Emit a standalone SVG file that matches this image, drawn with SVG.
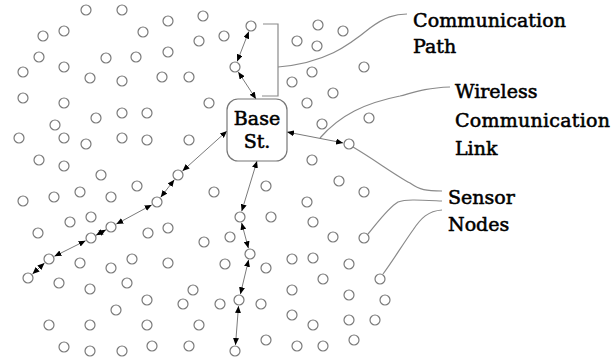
<svg xmlns="http://www.w3.org/2000/svg" width="613" height="357" viewBox="0 0 613 357">
<style>
.s{fill:#fff;stroke:#7a7a7a;stroke-width:1.2}
.c{fill:none;stroke:#7a7a7a;stroke-width:1;marker-start:url(#ah);marker-end:url(#ah)}
.ld{fill:none;stroke:#8a8a8a;stroke-width:1.2}
.t{font-family:"DejaVu Serif","Liberation Serif",serif;font-size:19px;fill:#000;stroke:#000;stroke-width:0.55}
.b{font-family:"DejaVu Serif","Liberation Serif",serif;font-size:19px;fill:#000;stroke:#000;stroke-width:0.55;text-anchor:middle}
</style>
<defs>
<marker id="ah" markerUnits="userSpaceOnUse" markerWidth="8" markerHeight="6" refX="7" refY="3" orient="auto-start-reverse">
<path d="M0,0 L7,3 L0,6 z" fill="#000"/>
</marker>
</defs>
<rect width="613" height="357" fill="#fff"/>

<g id="connectors">
<line class="c" x1="248.8" y1="31.6" x2="237.2" y2="61.4"/>
<line class="c" x1="238.3" y1="72" x2="256" y2="99"/>
<line class="c" x1="227" y1="131" x2="182.5" y2="171"/>
<line class="c" x1="174.3" y1="179.7" x2="160.7" y2="197.3"/>
<line class="c" x1="151.7" y1="204.9" x2="116.3" y2="224.1"/>
<line class="c" x1="106" y1="229.7" x2="96" y2="235.3"/>
<line class="c" x1="85.6" y1="240.7" x2="54.4" y2="256.3"/>
<line class="c" x1="44.5" y1="263" x2="32.5" y2="274"/>
<line class="c" x1="257" y1="161" x2="241.7" y2="211.3"/>
<line class="c" x1="241.6" y1="222.8" x2="248.4" y2="248.2"/>
<line class="c" x1="248.6" y1="259.8" x2="240.4" y2="294.2"/>
<line class="c" x1="238.5" y1="306" x2="235.5" y2="345"/>
<line class="c" x1="287" y1="132" x2="343.1" y2="142.9"/>
</g>

<g id="leaders">
<path class="ld" d="M263,24 H278 V96 H262"/>
<path class="ld" d="M278,67 C325,63 348,46 370,28 C385,17 395,14 407,14"/>
<path class="ld" d="M320,138 C340,115 365,103 400,96 C415,92 425,88 450,87"/>
<path class="ld" d="M353,147 C375,160 395,175 410,183 C420,190 426,191 442,191"/>
<path class="ld" d="M368,234 C378,222 388,208 398,202 C406,199 420,200 442,201"/>
<path class="ld" d="M383,274 C392,262 403,244 413,230 C421,218 428,211 442,210"/>
</g>

<g id="base-station">
<rect x="227" y="99" width="60" height="62" rx="11" ry="11" fill="#fff" stroke="#777" stroke-width="1.2"/>
<text class="b" x="257" y="125">Base</text>
<text class="b" x="257" y="148">St.</text>
</g>

<g id="label-path"><text class="t" x="413" y="27" textLength="153" lengthAdjust="spacing">Communication</text><text class="t" x="413" y="53">Path</text></g>
<g id="label-link"><text class="t" x="455" y="98">Wireless</text><text class="t" x="455" y="127" textLength="155" lengthAdjust="spacing">Communication</text><text class="t" x="455" y="155">Link</text></g>
<g id="label-sensor"><text class="t" x="448" y="204">Sensor</text><text class="t" x="448" y="231">Nodes</text></g>

<g id="path-nodes">
<g id="p1"><circle class="s" cx="251" cy="26" r="5"/></g>
<g id="p2"><circle class="s" cx="235" cy="67" r="5"/></g>
<g id="p3"><circle class="s" cx="178" cy="175" r="5"/></g>
<g id="p4"><circle class="s" cx="157" cy="202" r="5"/></g>
<g id="p5"><circle class="s" cx="111" cy="227" r="5"/></g>
<g id="p6"><circle class="s" cx="91" cy="238" r="5"/></g>
<g id="p7"><circle class="s" cx="49" cy="259" r="5"/></g>
<g id="p8"><circle class="s" cx="28" cy="278" r="5"/></g>
<g id="p9"><circle class="s" cx="240" cy="217" r="5"/></g>
<g id="p10"><circle class="s" cx="250" cy="254" r="5"/></g>
<g id="p11"><circle class="s" cx="239" cy="300" r="5"/></g>
<g id="p12"><circle class="s" cx="235" cy="351" r="5"/></g>
<g id="p13"><circle class="s" cx="349" cy="144" r="5"/></g>
<g id="p14"><circle class="s" cx="364" cy="238" r="5"/></g>
<g id="p15"><circle class="s" cx="380" cy="279" r="5"/></g>
</g>

<g id="sensor-nodes">
<g id="n1"><circle class="s" cx="86" cy="10" r="5"/></g>
<g id="n2"><circle class="s" cx="122" cy="10" r="5"/></g>
<g id="n3"><circle class="s" cx="168" cy="21" r="5"/></g>
<g id="n4"><circle class="s" cx="203" cy="16" r="5"/></g>
<g id="n5"><circle class="s" cx="43" cy="36" r="5"/></g>
<g id="n6"><circle class="s" cx="64" cy="31" r="5"/></g>
<g id="n7"><circle class="s" cx="143" cy="32" r="5"/></g>
<g id="n8"><circle class="s" cx="199" cy="41" r="5"/></g>
<g id="n9"><circle class="s" cx="224" cy="36" r="5"/></g>
<g id="n10"><circle class="s" cx="39" cy="57" r="5"/></g>
<g id="n11"><circle class="s" cx="106" cy="58" r="5"/></g>
<g id="n12"><circle class="s" cx="136" cy="57" r="5"/></g>
<g id="n13"><circle class="s" cx="168" cy="52" r="5"/></g>
<g id="n14"><circle class="s" cx="23" cy="72" r="5"/></g>
<g id="n15"><circle class="s" cx="64" cy="67" r="5"/></g>
<g id="n16"><circle class="s" cx="90" cy="78" r="5"/></g>
<g id="n17"><circle class="s" cx="122" cy="81" r="5"/></g>
<g id="n18"><circle class="s" cx="162" cy="77" r="5"/></g>
<g id="n19"><circle class="s" cx="189" cy="77" r="5"/></g>
<g id="n20"><circle class="s" cx="23" cy="98" r="5"/></g>
<g id="n21"><circle class="s" cx="64" cy="103" r="5"/></g>
<g id="n22"><circle class="s" cx="209" cy="103" r="5"/></g>
<g id="n23"><circle class="s" cx="96" cy="118" r="5"/></g>
<g id="n24"><circle class="s" cx="122" cy="113" r="5"/></g>
<g id="n25"><circle class="s" cx="147" cy="113" r="5"/></g>
<g id="n26"><circle class="s" cx="55" cy="125" r="5"/></g>
<g id="n27"><circle class="s" cx="19" cy="138" r="5"/></g>
<g id="n28"><circle class="s" cx="64" cy="138" r="5"/></g>
<g id="n29"><circle class="s" cx="86" cy="144" r="5"/></g>
<g id="n30"><circle class="s" cx="122" cy="138" r="5"/></g>
<g id="n31"><circle class="s" cx="147" cy="140" r="5"/></g>
<g id="n32"><circle class="s" cx="189" cy="140" r="5"/></g>
<g id="n33"><circle class="s" cx="39" cy="160" r="5"/></g>
<g id="n34"><circle class="s" cx="64" cy="166" r="5"/></g>
<g id="n35"><circle class="s" cx="101" cy="175" r="5"/></g>
<g id="n36"><circle class="s" cx="318" cy="25" r="5"/></g>
<g id="n37"><circle class="s" cx="343" cy="31" r="5"/></g>
<g id="n38"><circle class="s" cx="297" cy="41" r="5"/></g>
<g id="n39"><circle class="s" cx="317" cy="46" r="5"/></g>
<g id="n40"><circle class="s" cx="312" cy="72" r="5"/></g>
<g id="n41"><circle class="s" cx="364" cy="67" r="5"/></g>
<g id="n42"><circle class="s" cx="292" cy="82" r="5"/></g>
<g id="n43"><circle class="s" cx="333" cy="93" r="5"/></g>
<g id="n44"><circle class="s" cx="307" cy="103" r="5"/></g>
<g id="n45"><circle class="s" cx="369" cy="118" r="5"/></g>
<g id="n46"><circle class="s" cx="322" cy="124" r="5"/></g>
<g id="n47"><circle class="s" cx="312" cy="160" r="5"/></g>
<g id="n48"><circle class="s" cx="339" cy="181" r="5"/></g>
<g id="n49"><circle class="s" cx="364" cy="192" r="5"/></g>
<g id="n50"><circle class="s" cx="307" cy="202" r="5"/></g>
<g id="n51"><circle class="s" cx="23" cy="201" r="5"/></g>
<g id="n52"><circle class="s" cx="54" cy="197" r="5"/></g>
<g id="n53"><circle class="s" cx="80" cy="192" r="5"/></g>
<g id="n54"><circle class="s" cx="111" cy="197" r="5"/></g>
<g id="n55"><circle class="s" cx="137" cy="186" r="5"/></g>
<g id="n56"><circle class="s" cx="70" cy="222" r="5"/></g>
<g id="n57"><circle class="s" cx="91" cy="217" r="5"/></g>
<g id="n58"><circle class="s" cx="38" cy="233" r="5"/></g>
<g id="n59"><circle class="s" cx="148" cy="233" r="5"/></g>
<g id="n60"><circle class="s" cx="168" cy="228" r="5"/></g>
<g id="n61"><circle class="s" cx="204" cy="242" r="5"/></g>
<g id="n62"><circle class="s" cx="214" cy="192" r="5"/></g>
<g id="n63"><circle class="s" cx="132" cy="259" r="5"/></g>
<g id="n64"><circle class="s" cx="80" cy="263" r="5"/></g>
<g id="n65"><circle class="s" cx="111" cy="268" r="5"/></g>
<g id="n66"><circle class="s" cx="168" cy="263" r="5"/></g>
<g id="n67"><circle class="s" cx="59" cy="283" r="5"/></g>
<g id="n68"><circle class="s" cx="90" cy="289" r="5"/></g>
<g id="n69"><circle class="s" cx="127" cy="283" r="5"/></g>
<g id="n70"><circle class="s" cx="193" cy="290" r="5"/></g>
<g id="n71"><circle class="s" cx="147" cy="300" r="5"/></g>
<g id="n72"><circle class="s" cx="183" cy="304" r="5"/></g>
<g id="n73"><circle class="s" cx="116" cy="310" r="5"/></g>
<g id="n74"><circle class="s" cx="49" cy="325" r="5"/></g>
<g id="n75"><circle class="s" cx="90" cy="325" r="5"/></g>
<g id="n76"><circle class="s" cx="147" cy="325" r="5"/></g>
<g id="n77"><circle class="s" cx="199" cy="325" r="5"/></g>
<g id="n78"><circle class="s" cx="64" cy="347" r="5"/></g>
<g id="n79"><circle class="s" cx="90" cy="351" r="5"/></g>
<g id="n80"><circle class="s" cx="122" cy="351" r="5"/></g>
<g id="n81"><circle class="s" cx="152" cy="346" r="5"/></g>
<g id="n82"><circle class="s" cx="189" cy="346" r="5"/></g>
<g id="n83"><circle class="s" cx="266" cy="186" r="5"/></g>
<g id="n84"><circle class="s" cx="271" cy="217" r="5"/></g>
<g id="n85"><circle class="s" cx="313" cy="222" r="5"/></g>
<g id="n86"><circle class="s" cx="230" cy="237" r="5"/></g>
<g id="n87"><circle class="s" cx="333" cy="237" r="5"/></g>
<g id="n88"><circle class="s" cx="225" cy="264" r="5"/></g>
<g id="n89"><circle class="s" cx="266" cy="268" r="5"/></g>
<g id="n90"><circle class="s" cx="292" cy="259" r="5"/></g>
<g id="n91"><circle class="s" cx="313" cy="258" r="5"/></g>
<g id="n92"><circle class="s" cx="349" cy="264" r="5"/></g>
<g id="n93"><circle class="s" cx="323" cy="279" r="5"/></g>
<g id="n94"><circle class="s" cx="292" cy="290" r="5"/></g>
<g id="n95"><circle class="s" cx="349" cy="295" r="5"/></g>
<g id="n96"><circle class="s" cx="385" cy="300" r="5"/></g>
<g id="n97"><circle class="s" cx="220" cy="304" r="5"/></g>
<g id="n98"><circle class="s" cx="261" cy="304" r="5"/></g>
<g id="n99"><circle class="s" cx="292" cy="315" r="5"/></g>
<g id="n100"><circle class="s" cx="313" cy="325" r="5"/></g>
<g id="n101"><circle class="s" cx="349" cy="320" r="5"/></g>
<g id="n102"><circle class="s" cx="375" cy="320" r="5"/></g>
<g id="n103"><circle class="s" cx="266" cy="340" r="5"/></g>
<g id="n104"><circle class="s" cx="297" cy="346" r="5"/></g>
<g id="n105"><circle class="s" cx="323" cy="346" r="5"/></g>
<g id="n106"><circle class="s" cx="354" cy="340" r="5"/></g>
</g>
</svg>
